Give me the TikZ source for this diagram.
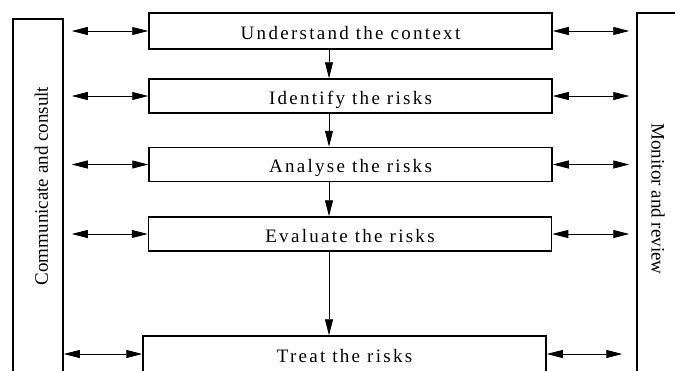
\documentclass[tikz,border=0pt]{standalone}
\usepackage{fontspec}
\setmainfont{Liberation Serif}
\newfontfamily\spaced[LetterSpace=12]{Liberation Serif}
\usepackage{tikz}
\usetikzlibrary{%
  arrows.meta,%
  calc%
}

\begin{document}
\begin{tikzpicture}[x=1pt,y=-1pt,%>=triangle 60,
  >={Triangle[length=16pt,width=8pt]},
  stepbox/.style={draw,line width=1.5pt,minimum width=403pt,minimum height=34pt,
    inner sep=0pt,text height=16pt,text depth=0pt,font=\fontsize{19}{22}\spaced},
  sidebar/.style={draw,line width=1.5pt,inner sep=0pt},
  sidetext/.style={font=\fontsize{19}{22}\selectfont},
  link/.style={<->,line width=.9pt}]
\useasboundingbox (0,0) rectangle (675,370);
\clip (0,0) rectangle (675,370);
\node[stepbox,minimum height=36pt] (ctx) at (350.5,31) {Understand the context};
\node[stepbox] (idf) at (350.5,96) {Identify the risks};
\node[stepbox] (anl) at (350.5,164.5) {Analyse the risks};
\node[stepbox] (evl) at (350,234) {Evaluate the risks};
\node[stepbox,minimum height=36pt] (trt) at (344.5,354) {Treat the risks};
%
\node[sidebar,minimum width=50pt,minimum height=361pt] (com) at (38,199.5) {};
\node[sidebar,minimum width=66pt,minimum height=367pt] (mon) at (670,196.5) {};
\node[sidetext,rotate=90] (comtxt) at (41.5,186) {Communicate and consult};
\node[sidetext,rotate=-90] (montxt) at (658,199) {Monitor and review};
\coordinate (axis) at (329,0);
%
\path[->,line width=.9pt] (ctx.south -| axis) edge (idf.north -| axis)
          (idf.south -| axis) edge (anl.north -| axis)
          (anl.south -| axis) edge (evl.north -| axis)
          (evl.south -| axis) edge (trt.north -| axis)
;
\path[link] (ctx) edge[shorten >=8pt] (ctx -| com.east)
            (idf) edge[shorten >=8pt] (idf -| com.east)
            (anl) edge[shorten >=8pt] (anl -| com.east)
            (evl) edge[shorten >=8pt] (evl -| com.east)
            (trt) edge (trt -| com.east)
;
\path[link] (ctx) edge[shorten >=7pt] (ctx -| mon.west)
            (idf) edge[shorten >=7pt] (idf -| mon.west)
            (anl) edge[shorten >=7pt] (anl -| mon.west)
            (evl) edge[shorten >=7pt] (evl -| mon.west)
            (trt) edge[shorten >=14pt] (trt -| mon.west)
;
\end{tikzpicture}
\end{document}
